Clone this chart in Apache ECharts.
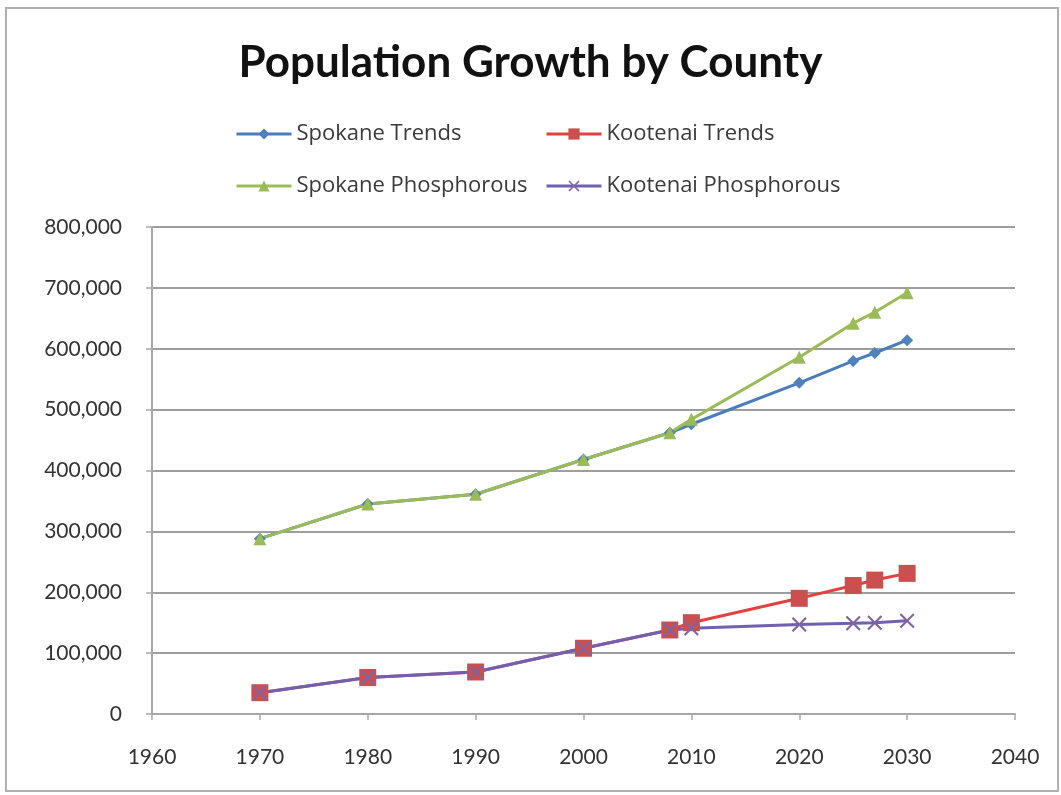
<!DOCTYPE html>
<html>
<head>
<meta charset="utf-8">
<script src="https://cdn.jsdelivr.net/npm/echarts@6/dist/echarts.min.js"></script>
<style>
html,body{margin:0;padding:0;background:#fff;}
#chart{width:1061px;height:795px;}
</style>
</head>
<body>
<div id="chart"></div>
<script>
const years = [1970, 1980, 1990, 2000, 2008, 2010, 2020, 2025, 2027, 2030];
const spokaneTrends = [288000, 345000, 361000, 418000, 462000, 476000, 544000, 580000, 593000, 614000];
const kootenaiTrends = [35000, 60000, 69000, 108000, 138000, 150000, 190000, 211000, 220000, 231000];
const spokanePhos = [288000, 345000, 361000, 418000, 462000, 484000, 586000, 642000, 660000, 692000];
const kootenaiPhos = [35000, 60000, 69000, 108000, 138000, 141000, 147000, 149000, 150000, 153000];

const pairs = vals => years.map((y, i) => [y, vals[i]]);
const xPath = 'path://M0,1 L1,0 L5,4 L9,0 L10,1 L6,5 L10,9 L9,10 L5,6 L1,10 L0,9 L4,5 Z';
const font = 'Lato, "Open Sans", sans-serif';

const chart = echarts.init(document.getElementById('chart'));
const legendBase = {
  itemWidth: 55, itemHeight: 14,
  lineStyle: {width: 3},
  textStyle: {fontFamily: '"Open Sans", sans-serif', fontSize: 22, color: '#3a3a3a'},
  selectedMode: false
};
chart.setOption({
  backgroundColor: '#fff',
  animation: false,
  graphic: [{
    type: 'rect', left: 5, top: 7, z: -1,
    shape: {width: 1052, height: 783},
    style: {fill: '#fff', stroke: '#b0b0b0', lineWidth: 2}
  }],
  title: {
    text: 'Population Growth by County',
    left: 'center', top: 36,
    textStyle: {fontFamily: font, fontSize: 44, fontWeight: 'bold', color: '#111'}
  },
  legend: [
    Object.assign({left: 230, top: 118, data: ['Spokane Trends']}, legendBase),
    Object.assign({left: 540, top: 118, data: ['Kootenai Trends']}, legendBase),
    Object.assign({left: 230, top: 170, data: ['Spokane Phosphorous']}, legendBase),
    Object.assign({left: 540, top: 170, data: ['Kootenai Phosphorous']}, legendBase)
  ],
  grid: {left: 152, right: 46, top: 227, bottom: 81, containLabel: false},
  xAxis: {
    type: 'value', min: 1960, max: 2040, interval: 10,
    axisLine: {lineStyle: {color: '#a8a8a8', width: 2}},
    axisTick: {show: true, length: 6, lineStyle: {color: '#a8a8a8', width: 1.5}},
    axisLabel: {fontFamily: font, fontSize: 21, color: '#333', margin: 33,
      formatter: v => String(v)},
    splitLine: {show: false}
  },
  yAxis: {
    type: 'value', min: 0, max: 800000, interval: 100000,
    axisLine: {show: true, lineStyle: {color: '#a8a8a8', width: 2}},
    axisTick: {show: true, length: 6, lineStyle: {color: '#a8a8a8', width: 1.5}},
    axisLabel: {fontFamily: font, fontSize: 21, color: '#333', margin: 30,
      formatter: v => v.toLocaleString('en-US')},
    splitLine: {show: true, lineStyle: {color: '#9e9e9e', width: 2}}
  },
  series: [
    {
      name: 'Spokane Trends', type: 'line', data: pairs(spokaneTrends),
      symbol: 'diamond', symbolSize: 12,
      lineStyle: {color: '#4a7ebb', width: 3},
      itemStyle: {color: '#4f81bd'}
    },
    {
      name: 'Kootenai Trends', type: 'line', data: pairs(kootenaiTrends),
      symbol: 'rect', symbolSize: 17,
      lineStyle: {color: '#e3403f', width: 3},
      itemStyle: {color: '#c9504f'}
    },
    {
      name: 'Spokane Phosphorous', type: 'line', data: pairs(spokanePhos),
      symbol: 'triangle', symbolSize: 13,
      lineStyle: {color: '#9bbb59', width: 3},
      itemStyle: {color: '#9bbb59'}
    },
    {
      name: 'Kootenai Phosphorous', type: 'line', data: pairs(kootenaiPhos),
      symbol: xPath, symbolSize: 15,
      lineStyle: {color: '#7060b0', width: 3},
      itemStyle: {color: '#8064a2'}
    }
  ]
});
</script>
</body>
</html>
